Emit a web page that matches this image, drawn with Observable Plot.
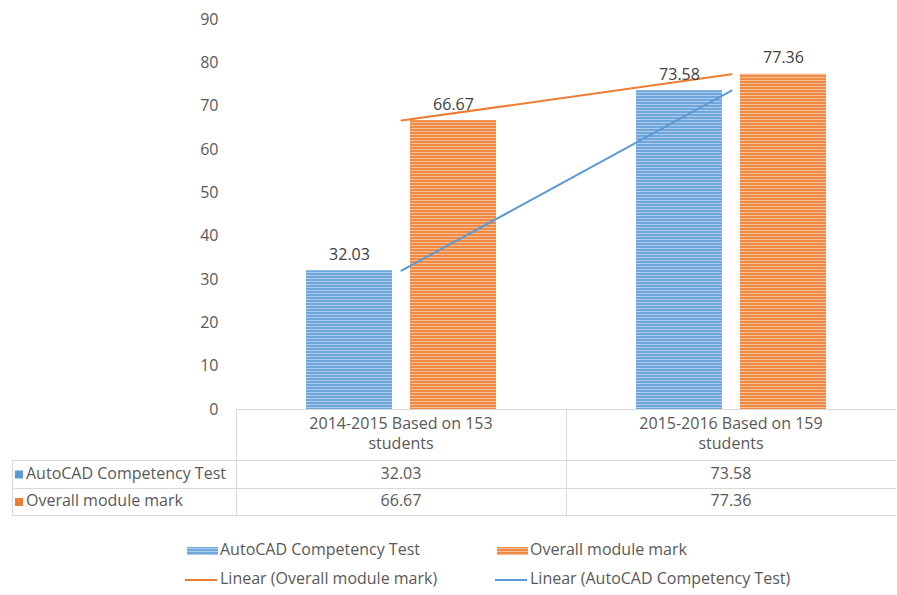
<!DOCTYPE html>
<html><head><meta charset="utf-8">
<script src="https://cdn.jsdelivr.net/npm/d3@7"></script>
<script src="https://cdn.jsdelivr.net/npm/@observablehq/plot@0.6"></script>
<style>body{margin:0;background:#fff;}</style>
</head><body><div id="chart"></div>
<script>
const categories = ["2014-2015 Based on 153 students", "2015-2016 Based on 159 students"];
const categoryLines = [["2014-2015 Based on 153", "students"], ["2015-2016 Based on 159", "students"]];
const seriesNames = ["AutoCAD Competency Test", "Overall module mark"];
const autocad = [32.03, 73.58];
const overall = [66.67, 77.36];
const yTicks = [0, 10, 20, 30, 40, 50, 60, 70, 80, 90];
const trendLabels = ["Linear (Overall module mark)", "Linear (AutoCAD Competency Test)"];

const blue = "#5B9BD5", blueLight = "#AECBEB";
const orange = "#ED7D31", orangeLight = "#F6BC94";
const font = "'Open Sans', sans-serif";
const fs = 16;

const rows = categories.map((c, i) => ({cat: c, a: autocad[i], o: overall[i]}));

const plot = Plot.plot({
  width: 897, height: 595,
  marginLeft: 236, marginRight: 1, marginTop: 19, marginBottom: 186,
  style: {fontFamily: font, fontSize: fs + "px", color: "#595959", background: "#fff", overflow: "visible"},
  x: {domain: categories, padding: 0, axis: null},
  y: {domain: [0, 90], ticks: yTicks, tickSize: 0, tickPadding: 18, label: null},
  marks: [
    Plot.barY(rows, {x: "cat", y: "a", fill: "url(#patBlue)", insetLeft: 70, insetRight: 174}),
    Plot.barY(rows, {x: "cat", y: "o", fill: "url(#patOrange)", insetLeft: 174, insetRight: 70}),
    Plot.ruleY([0], {stroke: "#d9d9d9"}),
    Plot.line(rows, {x: "cat", y: "o", stroke: orange, strokeWidth: 2}),
    Plot.line(rows, {x: "cat", y: "a", stroke: blue, strokeWidth: 2}),
    Plot.text(rows, {x: "cat", y: "a", text: d => d.a.toFixed(2), dx: -52, dy: -16, fill: "#404040"}),
    Plot.text(rows, {x: "cat", y: "o", text: d => d.o.toFixed(2), dx: 52, dy: -16, fill: "#404040"})
  ]
});
document.getElementById("chart").appendChild(plot);

const svg = d3.select(plot);
const defs = svg.insert("defs", ":first-child");
function pat(id, base, light) {
  const p = defs.append("pattern").attr("id", id).attr("patternUnits", "userSpaceOnUse")
    .attr("width", 4).attr("height", 3);
  p.append("rect").attr("width", 4).attr("height", 3).attr("fill", base);
  p.append("rect").attr("y", 2).attr("width", 4).attr("height", 1).attr("fill", light);
}
pat("patBlue", "#6FA7DB", blueLight);
pat("patOrange", "#EF8A45", orangeLight);

// data table
const xs = plot.scale("x");
const bw = xs.bandwidth;
const left = 12, right = 896, axisY = 409.5;
const rowY = [460.5, 488.5, 515.5];
const g = svg.append("g").attr("font-family", font).attr("font-size", fs).attr("fill", "#595959");
rowY.forEach(y => g.append("line").attr("x1", left).attr("x2", right).attr("y1", y).attr("y2", y).attr("stroke", "#d9d9d9"));
g.append("line").attr("x1", left + 0.5).attr("x2", left + 0.5).attr("y1", rowY[0]).attr("y2", rowY[2]).attr("stroke", "#d9d9d9");
categories.forEach((c, i) => {
  const x0 = xs.apply(c) + 0.5;
  g.append("line").attr("x1", x0).attr("x2", x0).attr("y1", axisY).attr("y2", rowY[2]).attr("stroke", "#d9d9d9");
  const cx = xs.apply(c) + bw / 2;
  categoryLines[i].forEach((t, k) => g.append("text").attr("x", cx).attr("y", 425 + k * 20)
    .attr("text-anchor", "middle").attr("dominant-baseline", "middle").text(t));
  [autocad[i], overall[i]].forEach((v, k) => g.append("text").attr("x", cx).attr("y", (rowY[k] + rowY[k + 1]) / 2)
    .attr("text-anchor", "middle").attr("dominant-baseline", "middle").text(v.toFixed(2)));
});
[blue, orange].forEach((col, k) => {
  const cy = (rowY[k] + rowY[k + 1]) / 2;
  g.append("rect").attr("x", 15).attr("y", cy - 4).attr("width", 8).attr("height", 8).attr("fill", col);
  g.append("text").attr("x", 26).attr("y", cy).attr("text-anchor", "start").attr("dominant-baseline", "middle").text(seriesNames[k]);
});

// legend
const lg = svg.append("g").attr("font-family", font).attr("font-size", fs).attr("fill", "#595959");
const legendItems = [
  {x: 187, y: 551, type: "bar", fill: "url(#patBlue)", label: seriesNames[0]},
  {x: 497, y: 551, type: "bar", fill: "url(#patOrange)", label: seriesNames[1]},
  {x: 187, y: 580, type: "line", stroke: orange, label: trendLabels[0]},
  {x: 497, y: 580, type: "line", stroke: blue, label: trendLabels[1]}
];
legendItems.forEach(it => {
  if (it.type === "bar") {
    lg.append("rect").attr("x", it.x).attr("y", it.y - 4).attr("width", 31).attr("height", 8).attr("fill", it.fill);
  } else {
    lg.append("line").attr("x1", it.x - 2).attr("x2", it.x + 30).attr("y1", it.y).attr("y2", it.y)
      .attr("stroke", it.stroke).attr("stroke-width", 2);
  }
  lg.append("text").attr("x", it.x + 33).attr("y", it.y).attr("text-anchor", "start").attr("dominant-baseline", "middle").text(it.label);
});
</script></body></html>
